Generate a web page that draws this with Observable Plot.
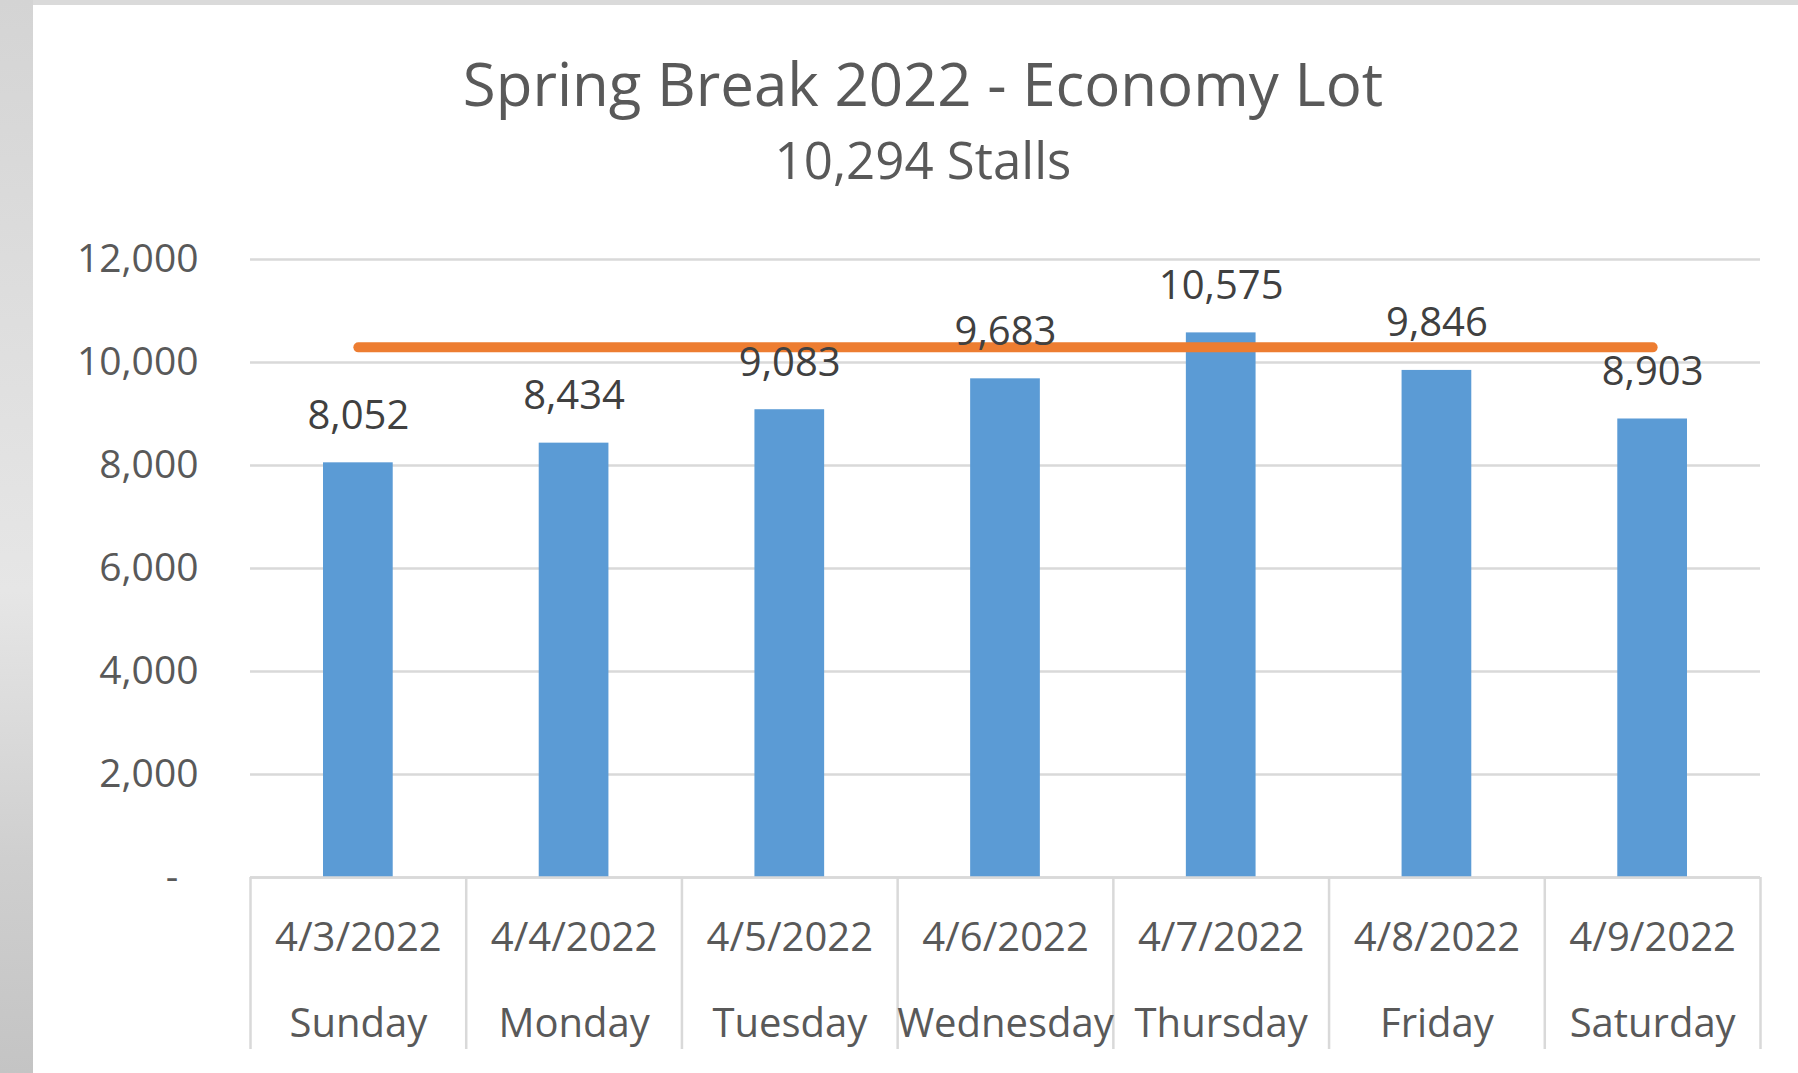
<!DOCTYPE html>
<html>
<head>
<meta charset="utf-8">
<script src="https://cdn.jsdelivr.net/npm/d3@7"></script>
<script src="https://cdn.jsdelivr.net/npm/@observablehq/plot@0.6"></script>
<style>
html, body { margin: 0; padding: 0; width: 1798px; height: 1073px; overflow: hidden; background: #dadada; font-family: "Open Sans", sans-serif; }
#strip { position: absolute; left: 0; top: 0; width: 33px; height: 1073px;
  background: linear-gradient(180deg, #d4d4d4 0%, #dedede 30%, #e6e6e6 55%, #cfcfcf 80%, #c4c4c4 100%); }
#card { position: absolute; left: 33px; top: 5px; width: 1765px; height: 1068px; background: #ffffff; }
.ttl { position: absolute; left: 48px; width: 1750px; text-align: center; color: #595959; white-space: nowrap; }
#title { top: 53px; font-size: 60px; line-height: 60px; }
#subtitle { top: 134px; font-size: 51px; line-height: 51px; }
#chart { position: absolute; left: 0; top: 0; }
</style>
</head>
<body>
<div id="strip"></div>
<div id="card"></div>
<div id="title" class="ttl">Spring Break 2022 - Economy Lot</div>
<div id="subtitle" class="ttl">10,294 Stalls</div>
<div id="chart"></div>
<script>
const dates = ["4/3/2022", "4/4/2022", "4/5/2022", "4/6/2022", "4/7/2022", "4/8/2022", "4/9/2022"];
const days = ["Sunday", "Monday", "Tuesday", "Wednesday", "Thursday", "Friday", "Saturday"];
const occupied = [8052, 8434, 9083, 9683, 10575, 9846, 8903];
const capacity = 10294;
const yTicks = [0, 2000, 4000, 6000, 8000, 10000, 12000];

const rows = dates.map((d, i) => ({i, date: d, day: days[i], value: occupied[i]}));
const fmt = d3.format(",");

const chart = Plot.plot({
  width: 1798,
  height: 1073,
  marginTop: 259,
  marginBottom: 196,
  marginLeft: 250,
  marginRight: 38,
  style: {background: "transparent", fontFamily: "'Open Sans', sans-serif", overflow: "visible"},
  x: {domain: [0, dates.length], label: null},
  y: {domain: [0, 12000], label: null},
  marks: [
    Plot.gridY(yTicks, {stroke: "#d9d9d9", strokeWidth: 2.5, strokeOpacity: 1}),
    Plot.axisY(yTicks, {tickSize: 0, tickPadding: 52, label: null,
      tickFormat: d => d === 0 ? "-\u00a0\u00a0" : fmt(d), fontSize: 39, fill: "#595959"}),
    Plot.rectY(rows, {x1: "i", x2: d => d.i + 1, y: "value", fill: "#5B9BD5", insetLeft: 73, insetRight: 73}),
    Plot.axisX(d3.range(dates.length + 1), {tickSize: 172, tickFormat: () => "", label: null,
      stroke: "#d9d9d9", strokeWidth: 2.5}),
    Plot.ruleY([0], {stroke: "#d9d9d9", strokeWidth: 2.5}),
    Plot.line(rows, {x: d => d.i + 0.5, y: () => capacity, stroke: "#ED7D31", strokeWidth: 10, strokeLinecap: "round"}),
    Plot.text(rows, {x: d => d.i + 0.5, y: "value", text: d => fmt(d.value), dy: -47, fontSize: 40, fill: "#404040"}),
    Plot.text(rows, {x: d => d.i + 0.5, frameAnchor: "bottom", text: "date", dy: 73, fontSize: 40, fill: "#595959"}),
    Plot.text(rows, {x: d => d.i + 0.5, frameAnchor: "bottom", text: "day", dy: 159, fontSize: 40, fill: "#595959"})
  ]
});
document.getElementById("chart").appendChild(chart);
</script>
</body>
</html>
